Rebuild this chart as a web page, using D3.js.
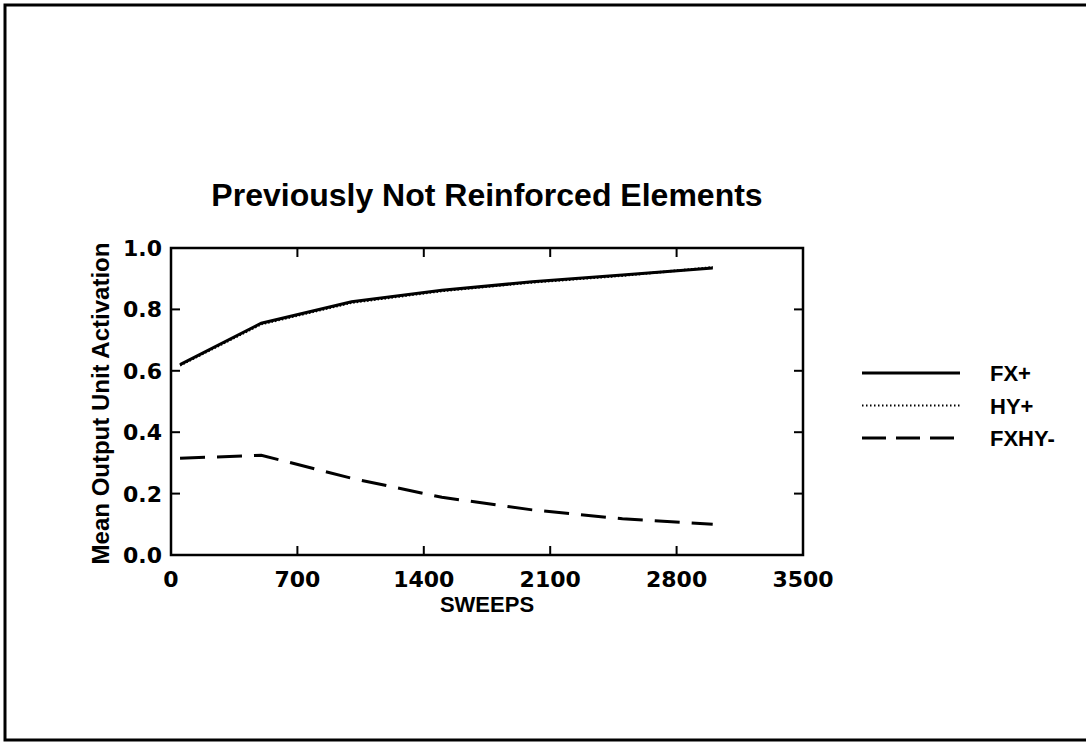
<!DOCTYPE html>
<html>
<head>
<meta charset="utf-8">
<script src="https://cdn.jsdelivr.net/npm/d3@7"></script>
<style>
  body { margin: 0; background: #fff; }
  svg text { font-family: "Liberation Sans", Arial, sans-serif; font-weight: bold; fill: #000; }
  svg text.num { font-family: "DejaVu Sans", "Liberation Sans", sans-serif; }
</style>
</head>
<body>
<div id="chart"></div>
<script>
// data
var sweeps = [50, 500, 1000, 1500, 2000, 2500, 3000];
var fxPlus = [0.62, 0.755, 0.825, 0.862, 0.89, 0.912, 0.935];
var hyPlus = [0.618, 0.752, 0.822, 0.86, 0.888, 0.91, 0.937];
var fxhyMinus = [0.315, 0.325, 0.25, 0.188, 0.147, 0.118, 0.1];
var seriesNames = ["FX+", "HY+", "FXHY-"];
var xTicks = [0, 700, 1400, 2100, 2800, 3500];
var yTicks = [0.0, 0.2, 0.4, 0.6, 0.8, 1.0];

var W = 1086, H = 743;
var plot = { left: 171, right: 803, top: 248, bottom: 555 };

var svg = d3.select("#chart").append("svg")
  .attr("width", W).attr("height", H);

// outer scan frame
svg.append("path")
  .attr("d", "M1090,5 H5 V740 H1090")
  .attr("fill", "none").attr("stroke", "#000").attr("stroke-width", 3);

var x = d3.scaleLinear().domain([0, 3500]).range([plot.left, plot.right]);
var y = d3.scaleLinear().domain([0, 1]).range([plot.bottom, plot.top]);

// frame of the plot
svg.append("rect")
  .attr("x", plot.left).attr("y", plot.top)
  .attr("width", plot.right - plot.left).attr("height", plot.bottom - plot.top)
  .attr("fill", "none").attr("stroke", "#000").attr("stroke-width", 2.5);

var tickLen = 9;
var innerX = xTicks.slice(1, -1), innerY = yTicks.slice(1, -1);

// inward ticks on all four sides
var ticks = svg.append("g").attr("stroke", "#000").attr("stroke-width", 2);
innerX.forEach(function (t) {
  ticks.append("line").attr("x1", x(t)).attr("x2", x(t)).attr("y1", plot.bottom).attr("y2", plot.bottom - tickLen);
  ticks.append("line").attr("x1", x(t)).attr("x2", x(t)).attr("y1", plot.top).attr("y2", plot.top + tickLen);
});
innerY.forEach(function (t) {
  ticks.append("line").attr("x1", plot.left).attr("x2", plot.left + tickLen).attr("y1", y(t)).attr("y2", y(t));
  ticks.append("line").attr("x1", plot.right).attr("x2", plot.right - tickLen).attr("y1", y(t)).attr("y2", y(t));
});

// tick labels
svg.append("g").selectAll("text").data(xTicks).enter().append("text")
  .attr("class", "num")
  .attr("x", function (d) { return x(d); })
  .attr("y", plot.bottom + 32)
  .attr("text-anchor", "middle")
  .style("font-size", "22px")
  .text(function (d) { return d; });

svg.append("g").selectAll("text").data(yTicks).enter().append("text")
  .attr("class", "num")
  .attr("x", plot.left - 9)
  .attr("y", function (d) { return y(d) + 8; })
  .attr("text-anchor", "end")
  .style("font-size", "22px")
  .text(function (d) { return d.toFixed(1); });

// axis titles and chart title
svg.append("text")
  .attr("x", (plot.left + plot.right) / 2).attr("y", plot.bottom + 57)
  .attr("text-anchor", "middle")
  .style("font-size", "22px")
  .text("SWEEPS");

svg.append("text")
  .attr("transform", "translate(109," + ((plot.top + plot.bottom) / 2 + 2) + ") rotate(-90)")
  .attr("text-anchor", "middle")
  .style("font-size", "24px")
  .text("Mean Output Unit Activation");

svg.append("text")
  .attr("x", 487).attr("y", 206)
  .attr("text-anchor", "middle")
  .style("font-size", "32px")
  .text("Previously Not Reinforced Elements");

// series
var styles = [
  { data: fxPlus, dash: null, width: 3 },
  { data: hyPlus, dash: "1.5,2", width: 2.5 },
  { data: fxhyMinus, dash: "25,12", width: 3 }
];

var line = d3.line()
  .x(function (d) { return x(d[0]); })
  .y(function (d) { return y(d[1]); });

styles.forEach(function (s) {
  svg.append("path")
    .datum(sweeps.map(function (v, i) { return [v, s.data[i]]; }))
    .attr("d", line)
    .attr("fill", "none").attr("stroke", "#000")
    .attr("stroke-width", s.width)
    .attr("stroke-dasharray", s.dash);
});

// legend
var legendDash = ["none", "1.5,2.5", "24,10"];
var legend = svg.append("g");
seriesNames.forEach(function (name, i) {
  var ly = 373 + i * 32.5;
  legend.append("line")
    .attr("x1", 862).attr("x2", 960).attr("y1", ly).attr("y2", ly)
    .attr("stroke", "#000").attr("stroke-width", i == 1 ? 2 : 3)
    .attr("stroke-dasharray", legendDash[i]);
  legend.append("text")
    .attr("x", 990).attr("y", ly + 8)
    .style("font-size", "22px")
    .text(name);
});
</script>
</body>
</html>
